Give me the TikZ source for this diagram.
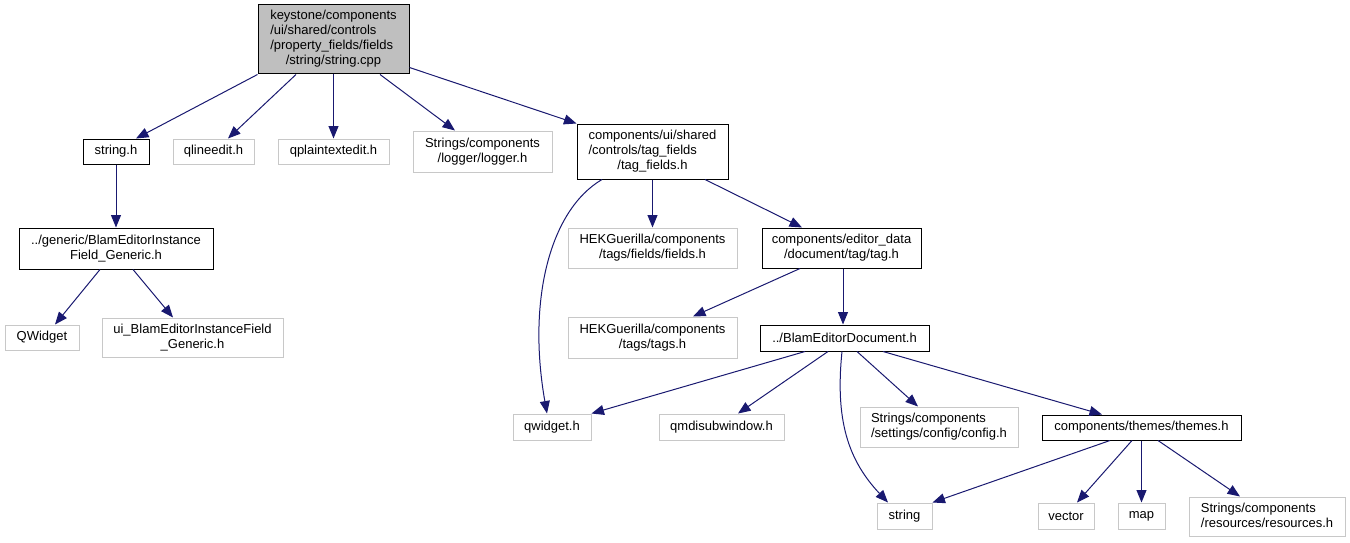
\documentclass[tikz,border=0pt]{standalone}
\usepackage{fontspec}
\setmainfont{Liberation Sans}
\usetikzlibrary{arrows.meta}

\definecolor{edgeblue}{HTML}{191970}
\definecolor{extgray}{HTML}{C8C8C8}
\definecolor{rootgray}{HTML}{BFBFBF}

% lines of a file name: the first ones flush left, the last one centred
\newcommand{\lns}[2]{\begin{tabular}{@{}l@{}}#1\\\multicolumn{1}{@{}c@{}}{#2}\end{tabular}}

\begin{document}
\begin{tikzpicture}[x=1pt,y=-1pt,
  font=\fontsize{13}{15}\selectfont,
  file/.style={draw=black,line width=1pt,inner sep=0pt},
  ext/.style={draw=extgray,line width=1pt,inner sep=0pt},
  dep/.style={-{Triangle[length=12.5pt,width=10pt]},line width=1pt,edgeblue}]

\useasboundingbox (0,0) rectangle (1350,543);

% top row
\node [file,fill=rootgray,minimum width=151pt,minimum height=69pt] (root) at (333.5,39.5)
  {\lns{keystone/components\\/ui/shared/controls\\/property\_fields/fields}{/string/string.cpp}};

% second row
\node [file,minimum width=66pt,minimum height=25pt] (stringh) at (116,151.5) {string.h};
\node [ext,minimum width=81pt,minimum height=25pt] (qlineedit) at (213.5,151.5) {qlineedit.h};
\node [ext,minimum width=111pt,minimum height=25pt] (qplain) at (333.5,151.5) {qplaintextedit.h};
\node [ext,minimum width=139pt,minimum height=41pt] (logger) at (482.5,151.5)
  {\lns{Strings/components}{/logger/logger.h}};
\node [file,minimum width=151pt,minimum height=55pt] (tagfields) at (652.5,151.5)
  {\lns{components/ui/shared\\/controls/tag\_fields}{/tag\_fields.h}};

% third row
\node [file,minimum width=194pt,minimum height=41pt] (generic) at (116,248.5)
  {\lns{../generic/BlamEditorInstance}{Field\_Generic.h}};
\node [ext,minimum width=169pt,minimum height=40pt] (hekfields) at (652.5,248)
  {\lns{HEKGuerilla/components}{/tags/fields/fields.h}};
\node [file,minimum width=159pt,minimum height=40pt] (tagh) at (841.5,248)
  {\lns{components/editor\_data}{/document/tag/tag.h}};

% fourth row
\node [ext,minimum width=74pt,minimum height=25pt] (QW) at (42,337.5) {QWidget};
\node [ext,minimum width=181pt,minimum height=39pt] (uiblam) at (192.5,337.5)
  {\lns{ui\_BlamEditorInstanceField}{\_Generic.h}};
\node [ext,minimum width=169pt,minimum height=41pt] (hektags) at (652.5,337.5)
  {\lns{HEKGuerilla/components}{/tags/tags.h}};
\node [file,minimum width=169pt,minimum height=26pt] (blamdoc) at (844.5,338) {../BlamEditorDocument.h};

% fifth row
\node [ext,minimum width=78pt,minimum height=26pt] (qwidget) at (552,427) {qwidget.h};
\node [ext,minimum width=125pt,minimum height=26pt] (qmdi) at (721.5,427) {qmdisubwindow.h};
\node [ext,minimum width=158pt,minimum height=40pt] (config) at (939,427)
  {\lns{Strings/components}{/settings/config/config.h}};
\node [file,minimum width=199pt,minimum height=25pt] (themes) at (1141.5,427.5) {components/themes/themes.h};

% bottom row
\node [ext,minimum width=55pt,minimum height=26pt] (string) at (904.5,516) {string};
\node [ext,minimum width=56pt,minimum height=26pt] (vector) at (1066,516) {vector};
\node [ext,minimum width=47pt,minimum height=26pt] (map) at (1141.5,516) {map};
\node [ext,minimum width=156pt,minimum height=39pt] (resources) at (1267,516.5)
  {\lns{Strings/components}{/resources/resources.h}};

% includes of string.cpp
\draw [dep] (root.south west) -- ([xshift=20pt]stringh.north);
\draw [dep] ([xshift=-37.5pt]root.south) -- ([xshift=14.5pt]qlineedit.north);
\draw [dep] (root.south) -- (qplain.north);
\draw [dep] ([xshift=46.5pt]root.south) -- ([xshift=-27.5pt]logger.north);
\draw [dep] ([yshift=-28pt]root.east) -- (tagfields.north west);

\draw [dep] (stringh.south) -- (generic.north);
\draw [dep] ([xshift=-16pt]generic.south) -- ([xshift=13pt]QW.north);
\draw [dep] ([xshift=17pt]generic.south) -- ([xshift=-19.5pt]uiblam.north);

% includes of tag_fields.h
\draw [dep] ([xshift=-50.5pt]tagfields.south) .. controls (550,210) and (527,300) .. ([xshift=-5pt]qwidget.north);
\draw [dep] (tagfields.south) -- (hekfields.north);
\draw [dep] ([xshift=52.5pt]tagfields.south) -- ([xshift=-39.5pt]tagh.north);

\draw [dep] ([xshift=-41.5pt]tagh.south) -- ([xshift=40.5pt]hektags.north);
\draw [dep] ([xshift=1.5pt]tagh.south) -- ([xshift=-1.5pt]blamdoc.north);

% includes of BlamEditorDocument.h
\draw [dep] ([xshift=-39.5pt]blamdoc.south) -- (qwidget.north east);
\draw [dep] ([xshift=-16.5pt]blamdoc.south) -- ([xshift=16.5pt]qmdi.north);
\draw [dep] ([xshift=12.5pt]blamdoc.south) -- ([xshift=-21pt]config.north);
\draw [dep] ([xshift=-2.5pt]blamdoc.south) .. controls (835,420) and (848,460) .. ([xshift=-16.5pt]string.north);
\draw [dep] ([xshift=38.5pt]blamdoc.south) -- ([xshift=-39.5pt]themes.north);

% includes of themes.h
\draw [dep] ([xshift=-31.5pt]themes.south) -- (string.north east);
\draw [dep] ([xshift=-9.5pt]themes.south) -- ([xshift=11pt]vector.north);
\draw [dep] (themes.south) -- (map.north);
\draw [dep] ([xshift=16.5pt]themes.south) -- ([xshift=-27pt]resources.north);

\end{tikzpicture}
\end{document}
